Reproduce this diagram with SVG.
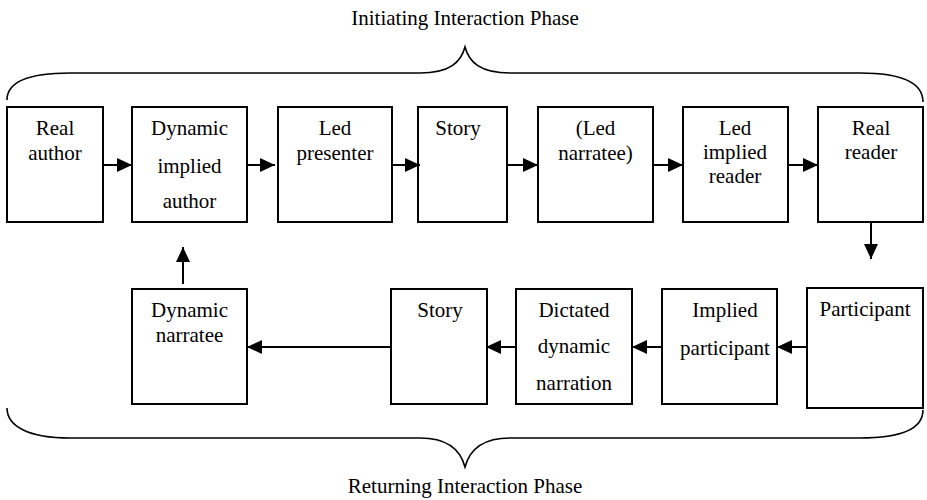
<svg xmlns="http://www.w3.org/2000/svg" width="927" height="500" viewBox="0 0 927 500">
  <style>
    .box { fill: #fff; stroke: #000; stroke-width: 2; }
    .lbl { font-family: "Liberation Serif", "Times New Roman", serif; font-size: 21px; fill: #000; text-anchor: middle; }
    .conn { stroke: #000; stroke-width: 2; fill: none; }
    .brace { stroke: #000; stroke-width: 1.6; fill: none; }
  </style>
  <defs>
    <marker id="arrow" viewBox="0 0 15 14" refX="15" refY="7" markerWidth="15" markerHeight="14" markerUnits="userSpaceOnUse" orient="auto">
      <path d="M0,0 L15,7 L0,14 Z" fill="#000"/>
    </marker>
  </defs>

  <rect width="927" height="500" fill="#fff"/>

  <!-- phase braces and captions -->
  <g id="phase-initiating">
    <text class="lbl" x="465" y="25">Initiating Interaction Phase</text>
    <path class="brace" d="M7,100 C7,82 28,73 70,73 L420,73 C450,73 461,62 465,47 C469,62 480,73 510,73 L860,73 C902,73 923,82 923,102"/>
  </g>
  <g id="phase-returning">
    <text class="lbl" x="465" y="493">Returning Interaction Phase</text>
    <path class="brace" d="M7,408 C7,426 28,438 70,438 L420,438 C450,438 461,452 465,467 C469,452 480,438 510,438 L860,438 C902,438 923,428 923,410"/>
  </g>

  <!-- top row -->
  <g id="real-author">
    <rect class="box" x="7" y="107" width="96" height="115"/>
    <text class="lbl" x="55" y="135">Real</text>
    <text class="lbl" x="55" y="160">author</text>
  </g>
  <g id="dynamic-implied-author">
    <rect class="box" x="132" y="107" width="115" height="115"/>
    <text class="lbl" x="189.5" y="135">Dynamic</text>
    <text class="lbl" x="189.5" y="173">implied</text>
    <text class="lbl" x="189.5" y="208">author</text>
  </g>
  <g id="led-presenter">
    <rect class="box" x="278" y="107" width="114" height="115"/>
    <text class="lbl" x="335" y="135">Led</text>
    <text class="lbl" x="335" y="160">presenter</text>
  </g>
  <g id="story-top">
    <rect class="box" x="418" y="107" width="89" height="115"/>
    <text class="lbl" x="458" y="135">Story</text>
  </g>
  <g id="led-narratee">
    <rect class="box" x="538" y="107" width="115" height="115"/>
    <text class="lbl" x="595.5" y="135">(Led</text>
    <text class="lbl" x="595.5" y="160">narratee)</text>
  </g>
  <g id="led-implied-reader">
    <rect class="box" x="683" y="107" width="105" height="115"/>
    <text class="lbl" x="735" y="135">Led</text>
    <text class="lbl" x="735" y="159">implied</text>
    <text class="lbl" x="735" y="183">reader</text>
  </g>
  <g id="real-reader">
    <rect class="box" x="818" y="107" width="105" height="115"/>
    <text class="lbl" x="871" y="135">Real</text>
    <text class="lbl" x="871" y="159">reader</text>
  </g>

  <!-- bottom row -->
  <g id="dynamic-narratee">
    <rect class="box" x="132" y="289" width="115" height="115"/>
    <text class="lbl" x="189.5" y="317">Dynamic</text>
    <text class="lbl" x="189.5" y="342">narratee</text>
  </g>
  <g id="story-bottom">
    <rect class="box" x="391" y="289" width="96" height="115"/>
    <text class="lbl" x="440" y="317">Story</text>
  </g>
  <g id="dictated-dynamic-narration">
    <rect class="box" x="516" y="289" width="116" height="115"/>
    <text class="lbl" x="574" y="317">Dictated</text>
    <text class="lbl" x="574" y="353">dynamic</text>
    <text class="lbl" x="574" y="390">narration</text>
  </g>
  <g id="implied-participant">
    <rect class="box" x="662" y="289" width="115" height="115"/>
    <text class="lbl" x="725" y="317">Implied</text>
    <text class="lbl" x="725" y="355">participant</text>
  </g>
  <g id="participant">
    <rect class="box" x="807" y="288" width="116" height="120"/>
    <text class="lbl" x="865" y="316">Participant</text>
  </g>

  <!-- connectors -->
  <g id="connectors">
    <line class="conn" x1="103" y1="165" x2="132" y2="165" marker-end="url(#arrow)"/>
    <line class="conn" x1="247" y1="165" x2="275" y2="165" marker-end="url(#arrow)"/>
    <line class="conn" x1="392" y1="165" x2="420" y2="165" marker-end="url(#arrow)"/>
    <line class="conn" x1="507" y1="165" x2="538" y2="165" marker-end="url(#arrow)"/>
    <line class="conn" x1="653" y1="165" x2="683" y2="165" marker-end="url(#arrow)"/>
    <line class="conn" x1="788" y1="165" x2="818" y2="165" marker-end="url(#arrow)"/>
    <line class="conn" x1="871" y1="222" x2="871" y2="259" marker-end="url(#arrow)"/>
    <line class="conn" x1="807" y1="347" x2="777" y2="347" marker-end="url(#arrow)"/>
    <line class="conn" x1="662" y1="347" x2="632" y2="347" marker-end="url(#arrow)"/>
    <line class="conn" x1="516" y1="347" x2="486" y2="347" marker-end="url(#arrow)"/>
    <line class="conn" x1="391" y1="347" x2="247" y2="347" marker-end="url(#arrow)"/>
    <line class="conn" x1="183" y1="284" x2="183" y2="247" marker-end="url(#arrow)"/>
  </g>
</svg>
